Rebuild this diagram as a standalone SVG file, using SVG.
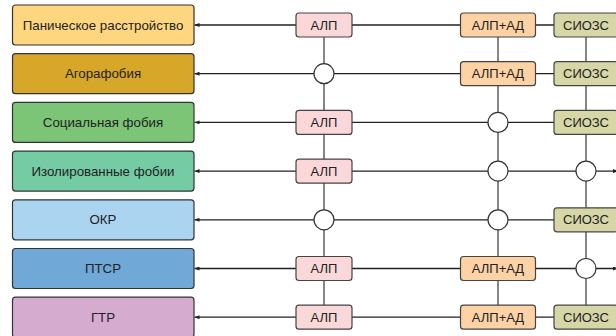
<svg xmlns="http://www.w3.org/2000/svg" width="616" height="336" viewBox="0 0 616 336">
<defs>
<style>
.big{stroke:#333;stroke-width:1.2}
.sm{stroke:#444;stroke-width:1.2}
.alp{fill:#FAD7D9}
.ad{fill:#FDD2A4}
.ssri{fill:#D6D6A6}
.circ{fill:#fff;stroke:#333;stroke-width:1.2}
text{font-family:"Liberation Sans",Arial,sans-serif;font-size:13px;fill:#222;text-anchor:middle;dominant-baseline:central}
.bt{font-size:13.3px}
.ln{stroke:#222;stroke-width:1.3;fill:none}
.vl{stroke:#444;stroke-width:1.3;fill:none}
</style>
<marker id="la" viewBox="0 0 5 4" refX="0" refY="2" markerWidth="5" markerHeight="4" markerUnits="userSpaceOnUse" orient="auto"><path d="M0,2 L5,0 L5,4 Z" fill="#222"/></marker>
<marker id="ra" viewBox="0 0 5 4" refX="5" refY="2" markerWidth="5" markerHeight="4" markerUnits="userSpaceOnUse" orient="auto"><path d="M0,0 L5,2 L0,4 Z" fill="#222"/></marker>
</defs>
<rect width="616" height="336" fill="#fff"/>
<g id="connectors">
<line class="ln" x1="194.5" y1="25" x2="560" y2="25" marker-start="url(#la)"/>
<line class="ln" x1="194.5" y1="73.7" x2="560" y2="73.7" marker-start="url(#la)"/>
<line class="ln" x1="194.5" y1="122.4" x2="560" y2="122.4" marker-start="url(#la)"/>
<line class="ln" x1="194.5" y1="171.1" x2="618" y2="171.1" marker-start="url(#la)" marker-end="url(#ra)"/>
<line class="ln" x1="194.5" y1="219.8" x2="560" y2="219.8" marker-start="url(#la)"/>
<line class="ln" x1="194.5" y1="268.5" x2="618" y2="268.5" marker-start="url(#la)" marker-end="url(#ra)"/>
<line class="ln" x1="194.5" y1="317.2" x2="560" y2="317.2" marker-start="url(#la)"/>
<line class="vl" x1="324" y1="25" x2="324" y2="317.2"/>
<line class="vl" x1="498" y1="25" x2="498" y2="317.2"/>
<line class="vl" x1="586" y1="25" x2="586" y2="317.2"/>
</g>
<g id="n-panic"><rect class="big" x="12.5" y="5" width="181.5" height="40" rx="3" fill="#FED67F"/><text class="bt" x="103" y="25">Паническое расстройство</text></g>
<g id="n-agora"><rect class="big" x="12.5" y="53.7" width="181.5" height="40" rx="3" fill="#D6A728"/><text class="bt" x="103" y="73.7">Агорафобия</text></g>
<g id="n-social"><rect class="big" x="12.5" y="102.4" width="181.5" height="40" rx="3" fill="#7CC576"/><text class="bt" x="103" y="122.4">Социальная фобия</text></g>
<g id="n-isol"><rect class="big" x="12.5" y="151.1" width="181.5" height="40" rx="3" fill="#75CBA4"/><text class="bt" x="103" y="171.1">Изолированные фобии</text></g>
<g id="n-ocd"><rect class="big" x="12.5" y="199.8" width="181.5" height="40" rx="3" fill="#ABD4F1"/><text class="bt" x="103" y="219.8">ОКР</text></g>
<g id="n-ptsd"><rect class="big" x="12.5" y="248.5" width="181.5" height="40" rx="3" fill="#70A8D8"/><text class="bt" x="103" y="268.5">ПТСР</text></g>
<g id="n-gad"><rect class="big" x="12.5" y="297.2" width="181.5" height="40" rx="3" fill="#D6ABD0"/><text class="bt" x="103" y="317.2">ГТР</text></g>

<g id="c1r1"><rect class="sm alp" x="296" y="13" width="56" height="24" rx="3"/><text x="324" y="25">АЛП</text></g>
<g id="c1r2"><circle class="circ" cx="324" cy="73.7" r="10"/></g>
<g id="c1r3"><rect class="sm alp" x="296" y="110.4" width="56" height="24" rx="3"/><text x="324" y="122.4">АЛП</text></g>
<g id="c1r4"><rect class="sm alp" x="296" y="159.1" width="56" height="24" rx="3"/><text x="324" y="171.1">АЛП</text></g>
<g id="c1r5"><circle class="circ" cx="324" cy="219.8" r="10"/></g>
<g id="c1r6"><rect class="sm alp" x="296" y="256.5" width="56" height="24" rx="3"/><text x="324" y="268.5">АЛП</text></g>
<g id="c1r7"><rect class="sm alp" x="296" y="305.2" width="56" height="24" rx="3"/><text x="324" y="317.2">АЛП</text></g>

<g id="c2r1"><rect class="sm ad" x="460.5" y="13" width="75" height="24" rx="3"/><text x="498" y="25">АЛП+АД</text></g>
<g id="c2r2"><rect class="sm ad" x="460.5" y="61.7" width="75" height="24" rx="3"/><text x="498" y="73.7">АЛП+АД</text></g>
<g id="c2r3"><circle class="circ" cx="498" cy="122.4" r="10"/></g>
<g id="c2r4"><circle class="circ" cx="498" cy="171.1" r="10"/></g>
<g id="c2r5"><circle class="circ" cx="498" cy="219.8" r="10"/></g>
<g id="c2r6"><rect class="sm ad" x="460.5" y="256.5" width="75" height="24" rx="3"/><text x="498" y="268.5">АЛП+АД</text></g>
<g id="c2r7"><rect class="sm ad" x="460.5" y="305.2" width="75" height="24" rx="3"/><text x="498" y="317.2">АЛП+АД</text></g>

<g id="c3r1"><rect class="sm ssri" x="554" y="13" width="64" height="24" rx="3"/><text x="586" y="25">СИОЗС</text></g>
<g id="c3r2"><rect class="sm ssri" x="554" y="61.7" width="64" height="24" rx="3"/><text x="586" y="73.7">СИОЗС</text></g>
<g id="c3r3"><rect class="sm ssri" x="554" y="110.4" width="64" height="24" rx="3"/><text x="586" y="122.4">СИОЗС</text></g>
<g id="c3r4"><circle class="circ" cx="586" cy="171.1" r="10"/></g>
<g id="c3r5"><rect class="sm ssri" x="554" y="207.8" width="64" height="24" rx="3"/><text x="586" y="219.8">СИОЗС</text></g>
<g id="c3r6"><circle class="circ" cx="586" cy="268.5" r="10"/></g>
<g id="c3r7"><rect class="sm ssri" x="554" y="305.2" width="64" height="24" rx="3"/><text x="586" y="317.2">СИОЗС</text></g>
</svg>
